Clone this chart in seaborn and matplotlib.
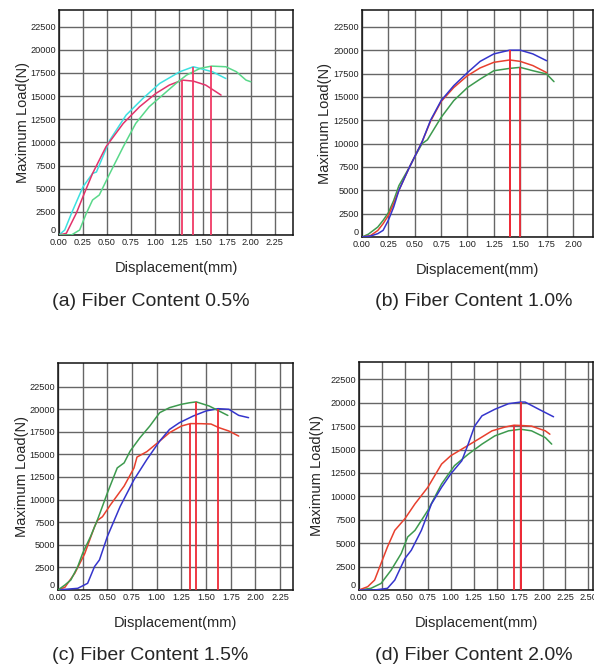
import numpy as np
import pandas as pd
import matplotlib
matplotlib.use("Agg")
import matplotlib.pyplot as plt
import seaborn as sns

# ---------------- data ----------------
# (a) Fiber Content 0.5%
a_cyan_x = [0.0, 0.06, 0.13, 0.25, 0.35, 0.39, 0.53, 0.70, 0.875, 1.05, 1.26, 1.40, 1.60, 1.74]
a_cyan_y = [0, 540, 2340, 5200, 6650, 6800, 10250, 12950, 14750, 16370, 17630, 18170, 17630, 16900]
a_crim_x = [0.0, 0.076, 0.18, 0.25, 0.35, 0.49, 0.67, 0.84, 1.01, 1.15, 1.285, 1.40, 1.53, 1.69]
a_crim_y = [0, 180, 2340, 4140, 6650, 9530, 12050, 13850, 15290, 16190, 16730, 16620, 16190, 15110]
a_green_x = [0.0, 0.13, 0.215, 0.285, 0.35, 0.42, 0.53, 0.67, 0.80, 0.94, 1.08, 1.22, 1.33, 1.47, 1.59, 1.74, 1.85, 1.95, 2.00]
a_green_y = [0, 0, 540, 2340, 3780, 4320, 6650, 9530, 12050, 13850, 15110, 16370, 17270, 17990, 18240, 18170, 17630, 16730, 16550]

# (b) Fiber Content 1.0%
b_blue_x = [0, 0.08, 0.15, 0.20, 0.25, 0.30, 0.35, 0.45, 0.50, 0.57, 0.65, 0.75, 0.87, 1.00, 1.12, 1.25, 1.40, 1.50, 1.62, 1.75]
b_blue_y = [0, 100, 360, 710, 1800, 3200, 5000, 7480, 8600, 10200, 12500, 14600, 16200, 17600, 18800, 19600, 20000, 20000, 19600, 18870]
b_red_x = [0, 0.08, 0.15, 0.20, 0.25, 0.30, 0.35, 0.45, 0.50, 0.57, 0.65, 0.75, 0.87, 1.00, 1.12, 1.25, 1.40, 1.50, 1.62, 1.75]
b_red_y = [0, 150, 700, 1420, 2300, 3560, 5000, 7480, 8600, 10200, 12400, 14500, 16000, 17270, 18100, 18700, 18950, 18800, 18350, 17600]
b_green_x = [0, 0.06, 0.15, 0.20, 0.25, 0.30, 0.35, 0.45, 0.50, 0.57, 0.62, 0.75, 0.87, 1.00, 1.12, 1.25, 1.40, 1.50, 1.62, 1.75, 1.82]
b_green_y = [0, 300, 1070, 1780, 2600, 3900, 5500, 7480, 8600, 10000, 10400, 12800, 14600, 16000, 16900, 17800, 18050, 18160, 17800, 17450, 16630]

# (c) Fiber Content 1.5%
c_green_x = [0, 0.07, 0.13, 0.20, 0.25, 0.33, 0.40, 0.50, 0.60, 0.67, 0.73, 0.83, 0.93, 1.03, 1.13, 1.25, 1.33, 1.40, 1.53, 1.63, 1.72]
c_green_y = [0, 555, 1110, 2590, 4070, 5920, 7770, 10730, 13500, 14060, 15350, 16840, 18130, 19610, 20165, 20535, 20700, 20800, 20350, 19800, 19300]
c_red_x = [0, 0.07, 0.17, 0.27, 0.37, 0.40, 0.45, 0.53, 0.67, 0.77, 0.80, 0.90, 1.03, 1.13, 1.25, 1.34, 1.45, 1.55, 1.63, 1.73, 1.83]
c_red_y = [0, 300, 1850, 4000, 7000, 7700, 8100, 9400, 11500, 13500, 14700, 15300, 16470, 17400, 18130, 18400, 18390, 18350, 17950, 17580, 17020]
c_blue_x = [0, 0.07, 0.20, 0.30, 0.37, 0.42, 0.50, 0.63, 0.77, 0.90, 1.03, 1.13, 1.23, 1.37, 1.50, 1.62, 1.73, 1.83, 1.93]
c_blue_y = [0, 70, 185, 740, 2590, 3330, 5920, 9250, 12200, 14430, 16470, 17760, 18500, 19240, 19800, 20050, 19980, 19310, 19055]

# (d) Fiber Content 2.0%
d_red_x = [0, 0.095, 0.17, 0.24, 0.31, 0.39, 0.50, 0.61, 0.75, 0.90, 1.00, 1.15, 1.30, 1.45, 1.59, 1.69, 1.80, 1.88, 2.03, 2.08]
d_red_y = [0, 354, 1060, 2830, 4600, 6370, 7610, 9200, 10970, 13450, 14340, 15220, 16100, 17000, 17400, 17600, 17550, 17500, 17000, 16640]
d_green_x = [0, 0.13, 0.24, 0.35, 0.46, 0.53, 0.61, 0.75, 0.90, 1.04, 1.19, 1.34, 1.48, 1.63, 1.76, 1.88, 2.03, 2.10]
d_green_y = [0, 177, 700, 2120, 3900, 5660, 6370, 8500, 11330, 13275, 14500, 15580, 16460, 17000, 17170, 17000, 16280, 15580]
d_blue_x = [0, 0.17, 0.31, 0.39, 0.50, 0.57, 0.68, 0.79, 0.90, 1.00, 1.12, 1.19, 1.26, 1.34, 1.48, 1.63, 1.76, 1.81, 1.96, 2.12]
d_blue_y = [0, 0, 177, 1060, 3360, 4250, 6370, 9200, 10970, 12400, 13800, 15580, 17500, 18600, 19300, 19900, 20070, 20070, 19300, 18500]

y_ticks = [0, 2500, 5000, 7500, 10000, 12500, 15000, 17500, 20000, 22500]
x_ticks_a = [0.00, 0.25, 0.50, 0.75, 1.00, 1.25, 1.50, 1.75, 2.00, 2.25]
x_ticks_b = [0.00, 0.25, 0.50, 0.75, 1.00, 1.25, 1.50, 1.75, 2.00]
x_ticks_d = [0.00, 0.25, 0.50, 0.75, 1.00, 1.25, 1.50, 1.75, 2.00, 2.25, 2.50]

captions = ["(a) Fiber Content 0.5%", "(b) Fiber Content 1.0%",
            "(c) Fiber Content 1.5%", "(d) Fiber Content 2.0%"]

# ---------------- style ----------------
sns.set_style("white")
plt.rcParams["font.family"] = ["Liberation Sans", "DejaVu Sans"]
tick_font = ["Liberation Sans Narrow", "Liberation Sans", "DejaVu Sans"]

C_CYAN = "#3ee0e0"
C_CRIM = "#e2336b"
C_LGREEN = "#5ad88a"
C_BLUE = "#3535cc"
C_RED = "#e8402e"
C_GREEN = "#3d9a4e"
C_VL = "#ee2a36"
C_VL_A = "#f03a66"

W, H = 594, 669
fig = plt.figure(figsize=(W / 100, H / 100), dpi=100)

def box(l, t, r, b):
    return [l / W, 1 - b / H, (r - l) / W, (b - t) / H]

panels = [
    dict(rect=box(59, 10, 293, 235), xmax=2.44, ymax=24300, xt=x_ticks_a,
         series=[(a_cyan_x, a_cyan_y, C_CYAN), (a_crim_x, a_crim_y, C_CRIM),
                 (a_green_x, a_green_y, C_LGREEN)], vl=C_VL_A, ylx=-0.125),
    dict(rect=box(362, 10, 593, 237), xmax=2.19, ymax=24300, xt=x_ticks_b,
         series=[(b_green_x, b_green_y, C_GREEN), (b_red_x, b_red_y, C_RED),
                 (b_blue_x, b_blue_y, C_BLUE)], vl=C_VL, ylx=-0.13),
    dict(rect=box(58, 363, 293, 590), xmax=2.38, ymax=25100, xt=x_ticks_a,
         series=[(c_red_x, c_red_y, C_RED), (c_blue_x, c_blue_y, C_BLUE),
                 (c_green_x, c_green_y, C_GREEN)], vl=C_VL, ylx=-0.125),
    dict(rect=box(359, 362, 593, 590), xmax=2.55, ymax=24350, xt=x_ticks_d,
         series=[(d_green_x, d_green_y, C_GREEN), (d_red_x, d_red_y, C_RED),
                 (d_blue_x, d_blue_y, C_BLUE)], vl=C_VL, ylx=-0.15),
]

cap_pos = [(151, 301), (474, 301), (150, 655), (474, 655)]

for i, p in enumerate(panels):
    ax = fig.add_axes(p["rect"])
    for xs, ys, col in p["series"]:
        df = pd.DataFrame({"x": xs, "y": ys})
        sns.lineplot(data=df, x="x", y="y", ax=ax, color=col, lw=1.1,
                     sort=False, estimator=None, zorder=3)
    # vertical lines at the peak of each curve
    for xs, ys, col in p["series"]:
        k = int(np.argmax(ys))
        ax.vlines(xs[k], 0, ys[k], colors=p["vl"], lw=1.3, zorder=4)
    ax.set_xlim(0, p["xmax"])
    ax.set_ylim(0, p["ymax"])
    ax.set_xticks(p["xt"])
    ax.set_xticklabels([f"{v:.2f}" for v in p["xt"]], fontsize=6.6,
                       family=tick_font, color="#222222")
    ax.set_yticks(y_ticks)
    ylabs = ax.set_yticklabels([str(v) for v in y_ticks], fontsize=6.6,
                               family=tick_font, color="#222222")
    ylabs[0].set_verticalalignment("bottom")
    ax.tick_params(length=0, pad=2)
    ax.grid(True, color="#666666", lw=1.0, zorder=0)
    for s in ax.spines.values():
        s.set_color("#111111")
        s.set_linewidth(1.1)
    ax.set_xlabel("Displacement(mm)", fontsize=10.5)
    ax.set_ylabel("Maximum Load(N)", fontsize=10.5)
    ax.xaxis.set_label_coords(0.5, -0.115)
    ax.yaxis.set_label_coords(p["ylx"], 0.5)
    cx, cy = cap_pos[i]
    fig.text(cx / W, 1 - cy / H, captions[i], ha="center", va="center", fontsize=14)

fig.savefig("out.png", dpi=100)
